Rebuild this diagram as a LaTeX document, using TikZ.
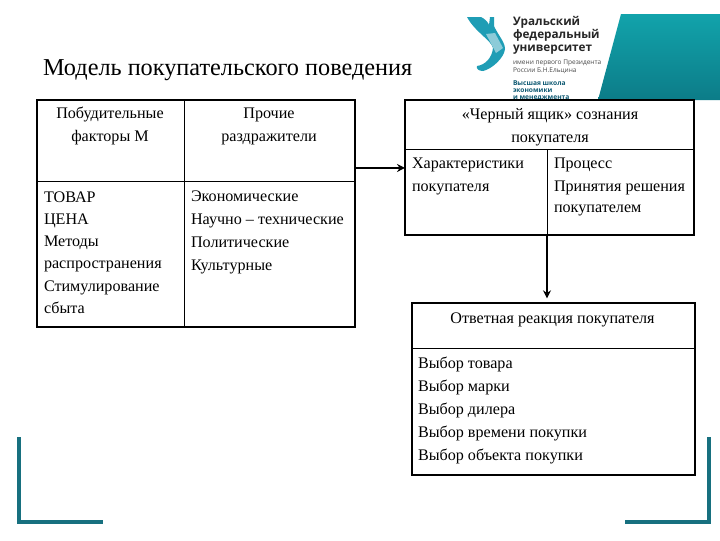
\documentclass[tikz,border=0pt]{standalone}
\usepackage{fontspec}
\setmainfont{Liberation Serif}
\newfontfamily\logofont{Open Sans}
\usetikzlibrary{arrows.meta}
\definecolor{uteal}{HTML}{17707F}
\definecolor{ulight}{HTML}{1F9DB5}
\definecolor{upale}{HTML}{8CCBD8}
\definecolor{utop}{HTML}{12A3AB}
\definecolor{ubot}{HTML}{0C7C88}
\definecolor{unavy}{HTML}{0F5A73}
\tikzset{
  x=.75pt,y=-.75pt,
  panel/.style={draw=black,line width=1.6pt,fill=white,inner sep=0pt,outer sep=0pt},
  cell/.style={draw=black,line width=.7pt,inner sep=0pt,outer sep=0pt},
  txt/.style={inner sep=0pt,outer sep=0pt,font=\fontsize{12.1pt}{17.25pt}\selectfont},
  conn/.style={draw=black,line width=1.6pt,-{Stealth[length=6pt,width=6pt]}},
  bracket/.style={draw=uteal,line width=2.3pt,line cap=butt,line join=miter},
  lg/.style={inner sep=0pt,outer sep=0pt,anchor=base west,font=\logofont\bfseries\fontsize{8.8pt}{10pt}\selectfont,text=black!85},
  ls/.style={inner sep=0pt,outer sep=0pt,anchor=base west,font=\logofont\fontsize{4.9pt}{5.1pt}\selectfont,text=black!70},
  lt/.style={inner sep=0pt,outer sep=0pt,anchor=base west,font=\logofont\bfseries\fontsize{5pt}{5.2pt}\selectfont,text=unavy}
}
\begin{document}
\begin{tikzpicture}
\useasboundingbox (0,0) rectangle (720,540);
\fill[white] (0,0) rectangle (720,540);
% banner
\shade[top color=utop,bottom color=ubot] (621,14) -- (720,14) -- (720,100) -- (598,100) -- cycle;
% logo mark
\fill[ulight] (467,17) -- (481,17) .. controls (485,19) and (488,22) .. (489,25) -- (490,17) -- (494,17) -- (494,26) .. controls (498,35) and (505,42) .. (505,49) .. controls (504,58) and (492,69) .. (483,71) .. controls (479,71) and (476,69) .. (477,66) .. controls (485,65) and (492,58) .. (493,48) .. controls (491,40) and (475,32) .. cycle;
\fill[upale] (486,34) -- (495,33) -- (503,48) -- (496,53) -- cycle;
\node[lg] (l1) at (513,25) {Уральский};
\node[lg] (l2) at (513,38) {федеральный};
\node[lg] (l3) at (513,51) {университет};
\node[ls] (l4) at (513,64) {имени первого Президента};
\node[ls] (l5) at (513,72) {России Б.Н.Ельцина};
\node[lt] (l6) at (513,85) {Высшая школа};
\node[lt] (l7) at (513,92) {экономики};
\node[lt] (l8) at (513,99) {и менеджмента};
% title
\node[inner sep=0pt,outer sep=0pt,anchor=base west,font=\fontsize{18.2pt}{20pt}\selectfont] (title) at (43,75) {Модель покупательского поведения};
% left table
\node[panel,minimum width=238.5pt,minimum height=170.25pt] (left) at (196,213.5) {};
\node[cell,anchor=north west,minimum width=110.25pt,minimum height=60.75pt,draw=none] (lt) at (37,100) {};
\node[cell,anchor=north west,minimum width=128.25pt,minimum height=60.75pt,draw=none] (rt) at (184,100) {};
\draw[cell] (lt.north east) -- (lt.north east |- left.south);
\draw[cell] (left.west |- lt.south) -- (left.east |- lt.south);
\node[txt,align=center,anchor=north] (t1) at (110,107) {Побудительные\\факторы М};
\node[txt,align=center,anchor=north] (t2) at (269,108) {Прочие\\раздражители};
\node[txt,align=left,anchor=north west,font=\fontsize{12.1pt}{16.7pt}\selectfont] (t3) at (44,191.5) {ТОВАР\\ЦЕНА\\Методы\\распространения\\Стимулирование\\сбыта};
\node[txt,align=left,anchor=north west] (t4) at (191,191) {Экономические\\Научно – технические\\Политические\\Культурные};
% black box
\node[panel,minimum width=216.75pt,minimum height=101.25pt] (box) at (549.5,167.5) {};
\node[cell,anchor=north west,minimum width=106.5pt,minimum height=64.5pt,draw=none] (ch) at (405,149.5) {};
\node[cell,anchor=north west,minimum width=110.25pt,minimum height=64.5pt,draw=none] (pr) at (547,149.5) {};
\draw[cell] (box.west |- ch.north) -- (box.east |- ch.north);
\draw[cell] (pr.north west) -- (pr.south west);
\node[txt,align=center,anchor=north] (t5) at (550,108) {«Черный ящик» сознания\\покупателя};
\node[txt,align=left,anchor=north west] (t6) at (412,158) {Характеристики\\покупателя};
\node[txt,align=left,anchor=north west] (t7) at (554,158) {Процесс\\Принятия решения\\[-1.5pt]покупателем};
% response
\node[panel,minimum width=212.25pt,minimum height=129pt] (resp) at (553.5,389) {};
\node[cell,anchor=north west,minimum width=212.25pt,minimum height=33.75pt,draw=none] (rh) at (412,303) {};
\draw[cell] (rh.south west) -- (rh.south east);
\node[txt,anchor=north] (t8) at (552.5,313) {Ответная реакция покупателя};
\node[txt,align=left,anchor=north west] (t9) at (418,357) {Выбор товара\\Выбор марки\\Выбор дилера\\Выбор времени покупки\\Выбор объекта покупки};
% connectors
\draw[conn] ([yshift=-20.6pt]rt.east) -- ([yshift=-20.6pt]rt.east -| box.west);
\draw[conn,shorten >=3.5pt] (pr.south west) -- (pr.south west |- resp.north);
% brackets
\draw[bracket] (19,437) -- (19,522) -- (103,522);
\draw[bracket] (709,437) -- (709,522) -- (625,522);
\end{tikzpicture}
\end{document}
